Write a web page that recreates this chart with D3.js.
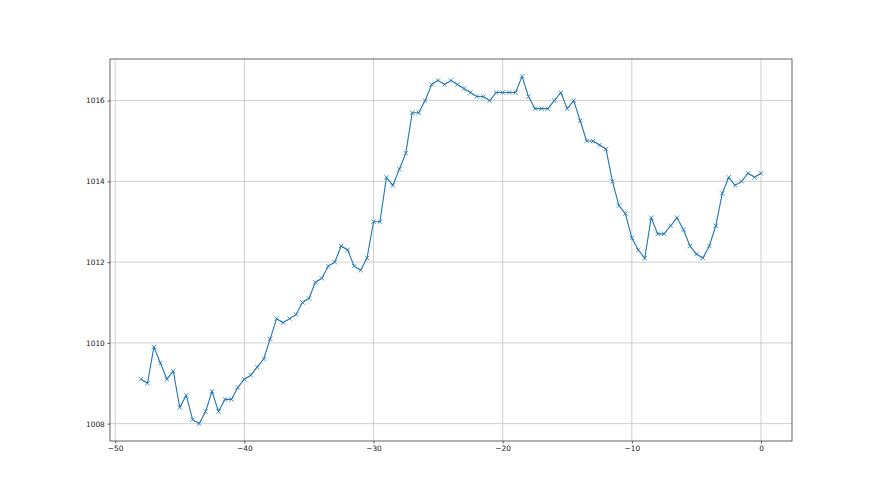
<!DOCTYPE html>
<html>
<head>
<meta charset="utf-8">
<script src="https://cdn.jsdelivr.net/npm/d3@7"></script>
<style>
  body { margin: 0; background: #fff; }
  svg { display: block; font-family: "DejaVu Sans", sans-serif; }
</style>
</head>
<body>
<div class="chart"></div>
<script>
// hours before now, 0.5 step
var hours = [-48, -47.5, -47, -46.5, -46, -45.5, -45, -44.5, -44, -43.5, -43, -42.5, -42, -41.5, -41, -40.5,
  -40, -39.5, -39, -38.5, -38, -37.5, -37, -36.5, -36, -35.5, -35, -34.5, -34, -33.5, -33, -32.5,
  -32, -31.5, -31, -30.5, -30, -29.5, -29, -28.5, -28, -27.5, -27, -26.5, -26, -25.5, -25, -24.5,
  -24, -23.5, -23, -22.5, -22, -21.5, -21, -20.5, -20, -19.5, -19, -18.5, -18, -17.5, -17, -16.5,
  -16, -15.5, -15, -14.5, -14, -13.5, -13, -12.5, -12, -11.5, -11, -10.5, -10, -9.5, -9, -8.5,
  -8, -7.5, -7, -6.5, -6, -5.5, -5, -4.5, -4, -3.5, -3, -2.5, -2, -1.5, -1, -0.5, 0];

var pressure = [1009.1, 1009.0, 1009.9, 1009.5, 1009.1, 1009.3, 1008.4, 1008.7, 1008.1, 1008.0, 1008.3, 1008.8, 1008.3, 1008.6, 1008.6, 1008.9,
  1009.1, 1009.2, 1009.4, 1009.6, 1010.1, 1010.6, 1010.5, 1010.6, 1010.7, 1011.0, 1011.1, 1011.5, 1011.6, 1011.9, 1012.0, 1012.4,
  1012.3, 1011.9, 1011.8, 1012.1, 1013.0, 1013.0, 1014.1, 1013.9, 1014.3, 1014.7, 1015.7, 1015.7, 1016.0, 1016.4, 1016.5, 1016.4,
  1016.5, 1016.4, 1016.3, 1016.2, 1016.1, 1016.1, 1016.0, 1016.2, 1016.2, 1016.2, 1016.2, 1016.6, 1016.1, 1015.8, 1015.8, 1015.8,
  1016.0, 1016.2, 1015.8, 1016.0, 1015.5, 1015.0, 1015.0, 1014.9, 1014.8, 1014.0, 1013.4, 1013.2, 1012.6, 1012.3, 1012.1, 1013.1,
  1012.7, 1012.7, 1012.9, 1013.1, 1012.8, 1012.4, 1012.2, 1012.1, 1012.4, 1012.9, 1013.7, 1014.1, 1013.9, 1014.0, 1014.2, 1014.1, 1014.2];

var xTicks = [-50, -40, -30, -20, -10, 0];
var yTicks = [1008, 1010, 1012, 1014, 1016];

var data = hours.map(function(h, i) { return { x: h, y: pressure[i] }; });

var W = 880, H = 495;
var margin = { top: 59, right: 88, bottom: 54, left: 110 },
    width = W - margin.left - margin.right,
    height = H - margin.top - margin.bottom;

var svg = d3.select(".chart").append("svg")
    .attr("width", W)
    .attr("height", H)
  .append("g")
    .attr("transform", "translate(" + margin.left + "," + margin.top + ")");

// matplotlib-like 5% padding
var xExt = d3.extent(hours), yExt = d3.extent(pressure);
var xPad = (xExt[1] - xExt[0]) * 0.05, yPad = (yExt[1] - yExt[0]) * 0.05;

var x = d3.scaleLinear().domain([xExt[0] - xPad, xExt[1] + xPad]).range([0, width]);
var y = d3.scaleLinear().domain([yExt[0] - yPad, yExt[1] + yPad]).range([height, 0]);

// grid
svg.append("g").selectAll("line").data(xTicks).enter().append("line")
    .attr("x1", function(d) { return x(d); }).attr("x2", function(d) { return x(d); })
    .attr("y1", 0).attr("y2", height)
    .attr("stroke", "#c4c4c4").attr("stroke-width", 0.8);
svg.append("g").selectAll("line").data(yTicks).enter().append("line")
    .attr("y1", function(d) { return y(d); }).attr("y2", function(d) { return y(d); })
    .attr("x1", 0).attr("x2", width)
    .attr("stroke", "#c4c4c4").attr("stroke-width", 0.8);

// axes
var fmtX = function(d) { return d < 0 ? "\u2212" + Math.abs(d) : d; };
var xAxis = svg.append("g")
    .attr("transform", "translate(0," + height + ")")
    .call(d3.axisBottom(x).tickValues(xTicks).tickFormat(fmtX).tickSizeOuter(0).tickSize(2.6).tickPadding(2.6));
var yAxis = svg.append("g")
    .call(d3.axisLeft(y).tickValues(yTicks).tickFormat(d3.format("d")).tickSizeOuter(0).tickSize(2.6).tickPadding(2.6));

[xAxis, yAxis].forEach(function(a) {
  a.select(".domain").remove();
  a.selectAll("text").attr("font-size", 7.4).attr("fill", "#222").attr("font-family", "DejaVu Sans, sans-serif");
  a.selectAll("line").attr("stroke", "#222").attr("stroke-width", 0.7);
});

// frame
svg.append("rect")
    .attr("width", width).attr("height", height)
    .attr("fill", "none").attr("stroke", "#222").attr("stroke-width", 0.7);

// line
var line = d3.line()
    .x(function(d) { return x(d.x); })
    .y(function(d) { return y(d.y); });

svg.append("path")
    .datum(data)
    .attr("d", line)
    .attr("fill", "none")
    .attr("stroke", "#1f77b4")
    .attr("stroke-width", 1.1)
    .attr("stroke-linejoin", "round");

// x markers
var s = 2.2;
svg.append("g").selectAll("path").data(data).enter().append("path")
    .attr("d", function(d) {
      var cx = x(d.x), cy = y(d.y);
      return "M" + (cx - s) + "," + (cy - s) + "L" + (cx + s) + "," + (cy + s) +
             "M" + (cx - s) + "," + (cy + s) + "L" + (cx + s) + "," + (cy - s);
    })
    .attr("stroke", "#1f77b4")
    .attr("stroke-width", 0.8)
    .attr("fill", "none");
</script>
</body>
</html>
